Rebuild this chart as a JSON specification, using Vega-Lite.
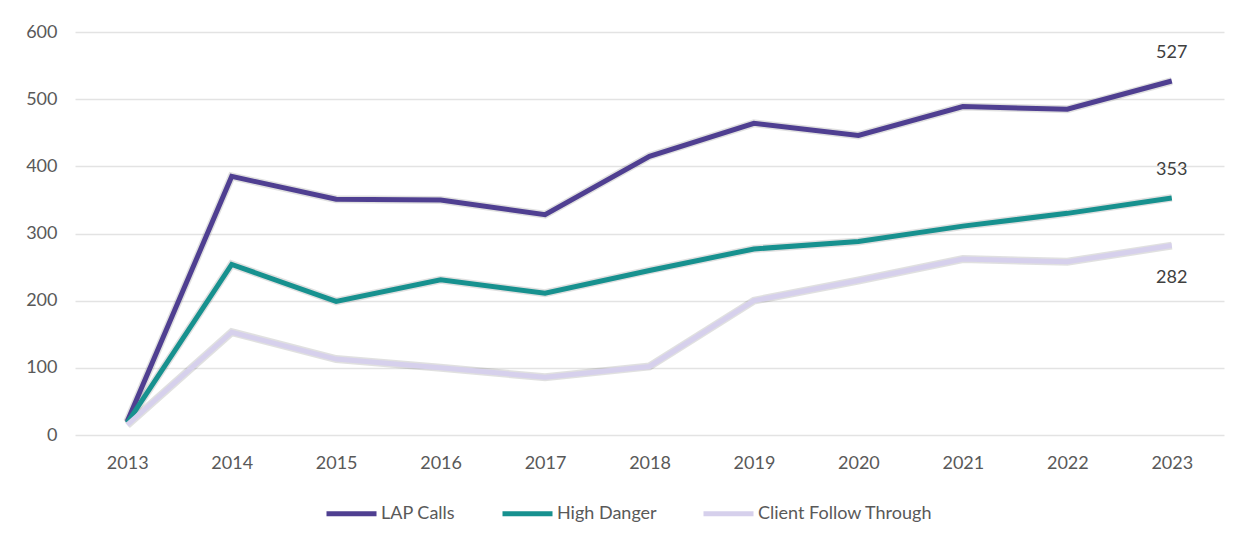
{
  "$schema": "https://vega.github.io/schema/vega-lite/v6.json",
  "width": 1149,
  "height": 403,
  "autosize": {"type": "none"},
  "padding": {"left": 75, "top": 32, "right": 23, "bottom": 109},
  "background": "white",
  "config": {
    "view": {"stroke": null},
    "font": "Lato",
    "axis": {"labelFont": "Lato", "labelColor": "#595959", "labelFontSize": 18},
    "legend": {"labelFont": "Lato", "labelColor": "#595959", "labelFontSize": 18, "labelLimit": 400}
  },
  "data": {
    "values": [
      {"year": "2013", "series": "LAP Calls", "value": 20},
      {"year": "2014", "series": "LAP Calls", "value": 385},
      {"year": "2015", "series": "LAP Calls", "value": 351},
      {"year": "2016", "series": "LAP Calls", "value": 350},
      {"year": "2017", "series": "LAP Calls", "value": 328},
      {"year": "2018", "series": "LAP Calls", "value": 415},
      {"year": "2019", "series": "LAP Calls", "value": 464},
      {"year": "2020", "series": "LAP Calls", "value": 446},
      {"year": "2021", "series": "LAP Calls", "value": 489},
      {"year": "2022", "series": "LAP Calls", "value": 485},
      {"year": "2023", "series": "LAP Calls", "value": 527},
      {"year": "2013", "series": "High Danger", "value": 18},
      {"year": "2014", "series": "High Danger", "value": 254},
      {"year": "2015", "series": "High Danger", "value": 199},
      {"year": "2016", "series": "High Danger", "value": 231},
      {"year": "2017", "series": "High Danger", "value": 211},
      {"year": "2018", "series": "High Danger", "value": 245},
      {"year": "2019", "series": "High Danger", "value": 277},
      {"year": "2020", "series": "High Danger", "value": 288},
      {"year": "2021", "series": "High Danger", "value": 311},
      {"year": "2022", "series": "High Danger", "value": 330},
      {"year": "2023", "series": "High Danger", "value": 353},
      {"year": "2013", "series": "Client Follow Through", "value": 15},
      {"year": "2014", "series": "Client Follow Through", "value": 153},
      {"year": "2015", "series": "Client Follow Through", "value": 113},
      {"year": "2016", "series": "Client Follow Through", "value": 100},
      {"year": "2017", "series": "Client Follow Through", "value": 86},
      {"year": "2018", "series": "Client Follow Through", "value": 102},
      {"year": "2019", "series": "Client Follow Through", "value": 200},
      {"year": "2020", "series": "Client Follow Through", "value": 230},
      {"year": "2021", "series": "Client Follow Through", "value": 262},
      {"year": "2022", "series": "Client Follow Through", "value": 258},
      {"year": "2023", "series": "Client Follow Through", "value": 282}
    ]
  },
  "encoding": {
    "x": {
      "field": "year", "type": "ordinal",
      "scale": {"type": "point", "padding": 0.5},
      "axis": {"title": null, "labelAngle": 0, "ticks": false, "domain": false, "grid": false, "labelPadding": 19}
    },
    "y": {
      "field": "value", "type": "quantitative",
      "scale": {"domain": [0, 600], "nice": false},
      "axis": {"title": null, "values": [0, 100, 200, 300, 400, 500, 600], "ticks": false, "domain": false, "gridColor": "#e3e3e3", "gridWidth": 1.5, "labelPadding": 18}
    }
  },
  "layer": [
    {
      "mark": {"type": "line", "stroke": "#000000", "strokeOpacity": 0.12, "strokeWidth": 8, "strokeJoin": "miter"},
      "encoding": {"detail": {"field": "series"}}
    },
    {
      "mark": {"type": "line", "strokeWidth": 5, "strokeJoin": "miter"},
      "encoding": {
        "color": {
          "field": "series", "type": "nominal",
          "scale": {"domain": ["LAP Calls", "High Danger", "Client Follow Through"], "range": ["#4f3f91", "#17918f", "#d6d0ec"]},
          "legend": {
            "title": null, "orient": "none", "direction": "horizontal",
            "legendX": 249, "legendY": 454,
            "symbolType": "stroke", "symbolSize": 2500, "symbolStrokeWidth": 5,
            "labelOffset": 2, "columnPadding": 36
          }
        }
      }
    },
    {
      "transform": [{"filter": "datum.year == '2023' && datum.series != 'Client Follow Through'"}],
      "mark": {"type": "text", "dy": -28, "fontSize": 18, "color": "#404040"},
      "encoding": {"text": {"field": "value", "type": "quantitative"}}
    },
    {
      "transform": [{"filter": "datum.year == '2023' && datum.series == 'Client Follow Through'"}],
      "mark": {"type": "text", "dy": 32, "fontSize": 18, "color": "#404040"},
      "encoding": {"text": {"field": "value", "type": "quantitative"}}
    }
  ]
}
